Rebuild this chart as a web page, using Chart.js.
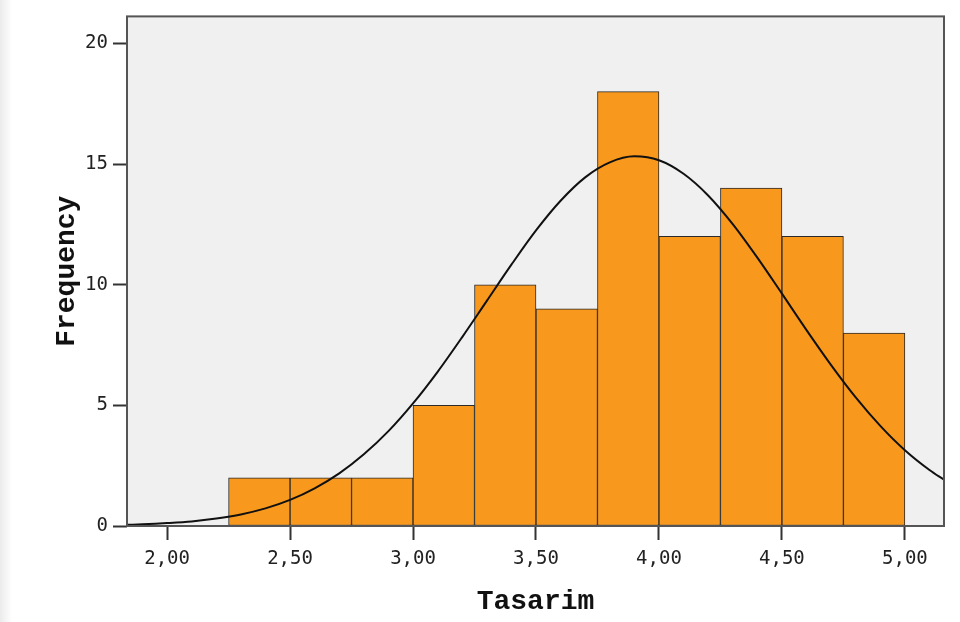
<!DOCTYPE html>
<html>
<head>
<meta charset="utf-8">
<script src="https://cdn.jsdelivr.net/npm/chart.js@4"></script>
<style>
  body { margin: 0; background: #fff; }
  #wrap { width: 960px; height: 622px; background: linear-gradient(to right, #ebebeb 0, #fff 12px); }
  canvas { display: block; }
</style>
</head>
<body>
<div id="wrap"><canvas id="hist" width="960" height="622"></canvas></div>
<script>
// Histogram bins (lower edge of each 0.25 wide bin) and counts
const binStarts = [2.25, 2.50, 2.75, 3.00, 3.25, 3.50, 3.75, 4.00, 4.25, 4.50, 4.75];
const counts = [2, 2, 2, 5, 10, 9, 18, 12, 14, 12, 8];
const binWidth = 0.25;

// Normal curve
const curveX = [1.84, 1.9, 2.0, 2.1, 2.2, 2.3, 2.4, 2.5, 2.6, 2.7, 2.8, 2.9, 3.0, 3.1, 3.2, 3.3, 3.4, 3.5,
  3.6, 3.7, 3.8, 3.9, 4.0, 4.1, 4.2, 4.3, 4.4, 4.5, 4.6, 4.7, 4.8, 4.9, 5.0, 5.1, 5.16];
const curveY = [0.05, 0.07, 0.12, 0.19, 0.31, 0.48, 0.73, 1.08, 1.56, 2.18, 2.97, 3.93, 5.08, 6.39, 7.83, 9.33,
  10.83, 12.25, 13.48, 14.45, 15.07, 15.32, 15.16, 14.60, 13.70, 12.51, 11.12, 9.63, 8.12, 6.67, 5.33, 4.15,
  3.14, 2.32, 1.91];

// Axis ranges and ticks
const xMin = 1.837, xMax = 5.159, xStep = 0.5;
const yMin = 0, yMax = 21.12, yStep = 5;

const barData = binStarts.map((b, i) => ({ x: b + binWidth / 2, y: counts[i] }));
const lineData = curveX.map((x, i) => ({ x: x, y: curveY[i] }));

// Grey plot background and frame round the chart area
const plotFrame = {
  id: 'plotFrame',
  beforeDraw(chart) {
    const { ctx, chartArea: a } = chart;
    ctx.save();
    ctx.fillStyle = '#f0f0f0';
    ctx.fillRect(a.left, a.top, a.right - a.left, a.bottom - a.top);
    ctx.restore();
  },
  afterDatasetsDraw(chart) {
    const { ctx, chartArea: a } = chart;
    ctx.save();
    ctx.strokeStyle = '#555';
    ctx.lineWidth = 2;
    ctx.strokeRect(a.left, a.top, a.right - a.left, a.bottom - a.top);
    ctx.restore();
  }
};

const tickFont = { family: '"DejaVu Sans Mono", monospace', size: 19 };
const titleFont = { family: '"Liberation Mono", "Courier New", monospace', size: 28, weight: 'bold' };

new Chart(document.getElementById('hist'), {
  type: 'bar',
  data: {
    datasets: [{
      type: 'line',
      data: lineData,
      borderColor: '#111',
      borderWidth: 2,
      pointRadius: 0,
      cubicInterpolationMode: 'monotone',
      fill: false,
      order: 0
    }, {
      type: 'bar',
      data: barData,
      backgroundColor: '#f8981d',
      borderColor: '#2a2a2a',
      borderWidth: 1,
      borderSkipped: false,
      barPercentage: 1,
      categoryPercentage: 1,
      order: 1
    }]
  },
  options: {
    responsive: false,
    animation: false,
    devicePixelRatio: 1,
    layout: { padding: { top: 16, right: 16, left: 0, bottom: 0 } },
    plugins: { legend: { display: false }, tooltip: { enabled: false } },
    scales: {
      x: {
        type: 'linear',
        min: xMin,
        max: xMax,
        offset: false,
        grid: { display: true, drawOnChartArea: false, offset: false, tickLength: 14, tickColor: '#333', tickWidth: 2 },
        border: { display: false },
        ticks: {
          stepSize: xStep,
          includeBounds: false,
          maxRotation: 0,
          autoSkip: false,
          padding: 8,
          color: '#222',
          font: tickFont,
          callback: v => v.toFixed(2).replace('.', ',')
        },
        title: { display: true, text: 'Tasarim', color: '#111', font: titleFont, padding: { top: 0, bottom: 3 } },
        afterFit: s => { s.height = 96; }
      },
      y: {
        type: 'linear',
        min: yMin,
        max: yMax,
        grid: { display: true, drawOnChartArea: false, tickLength: 14, tickColor: '#333', tickWidth: 2 },
        border: { display: false },
        ticks: {
          stepSize: yStep,
          includeBounds: false,
          padding: 5,
          color: '#222',
          font: tickFont
        },
        title: { display: true, text: 'Frequency', color: '#111', font: titleFont, padding: { top: 50, bottom: 0 } },
        afterFit: s => { s.width = 127; }
      }
    }
  },
  plugins: [plotFrame]
});
</script>
</body>
</html>
